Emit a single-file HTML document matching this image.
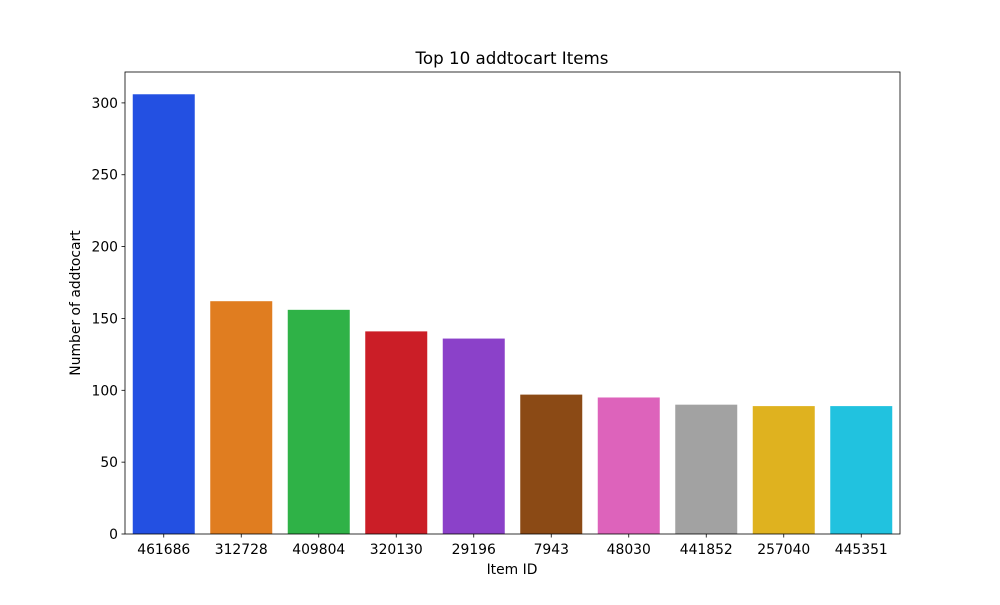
<!DOCTYPE html>
<html><head><meta charset="utf-8"><style>
body{margin:0;background:#fff;}
svg text{font-family:"DejaVu Sans","Liberation Sans",sans-serif;fill:#000;}
</style></head><body>
<svg id="chart" width="1000" height="600">
<rect width="1000" height="600" fill="#fff"/>
<text x="512" y="64" font-size="16.7" text-anchor="middle">Top 10 addtocart Items</text>
<g id="bars"></g>
<g id="axes"></g>
<text x="512" y="574" font-size="13.9" text-anchor="middle">Item ID</text>
<text x="0" y="0" font-size="13.9" text-anchor="middle" transform="translate(80,303) rotate(-90)">Number of addtocart</text>
</svg>
<script>
const categories=["461686","312728","409804","320130","29196","7943","48030","441852","257040","445351"];
const values=[306,162,156,141,136,97,95,90,89,89];
const colors=["#2350e2","#e07d20","#2fb247","#cb1e27","#8b41c9","#8b4a15","#dd63bb","#a2a2a2","#dfb21f","#21c2df"];
const yTicks=[0,50,100,150,200,250,300];
const L=125,R=900,T=72,B=534,yMax=321.5;
const ns="http://www.w3.org/2000/svg";
const x=i=>L+(R-L)/categories.length*(i+0.5);
const y=v=>B-(v/yMax)*(B-T);
const bw=(R-L)/categories.length*0.8;
const bars=document.getElementById('bars'),axes=document.getElementById('axes');
function mk(t,a,p){const e=document.createElementNS(ns,t);for(const k in a)e.setAttribute(k,a[k]);p.appendChild(e);return e;}
values.forEach((v,i)=>{
 const r=mk('rect',{x:x(i)-bw/2,y:y(v),width:bw,height:B-y(v),fill:colors[i]},bars);
 
 
 mk('line',{x1:x(i),x2:x(i),y1:B,y2:B+3.5,stroke:'#000','stroke-width':0.8},axes);
 const t=mk('text',{x:x(i),y:B+20,'font-size':13.9,'text-anchor':'middle'},axes);
 t.textContent=categories[i];
 
 
});
yTicks.forEach(v=>{
 mk('line',{x1:L-3.5,x2:L,y1:y(v),y2:y(v),stroke:'#000','stroke-width':0.8},axes);
 const t=mk('text',{x:L-7,y:y(v)+5,'font-size':13.9,'text-anchor':'end'},axes);
 t.textContent=v;
 
 
});
const f=mk('rect',{x:L,y:T,width:R-L,height:B-T,fill:'none',stroke:'#000','stroke-width':0.8},axes);


</script>
</body></html>
